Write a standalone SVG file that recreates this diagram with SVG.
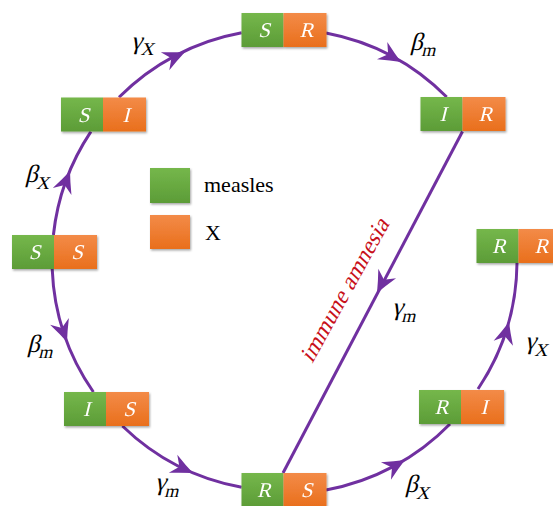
<svg xmlns="http://www.w3.org/2000/svg" xmlns:xlink="http://www.w3.org/1999/xlink" width="553" height="506" viewBox="0 0 553 506">
<style>
.g{fill:url(#gg)}
.o{fill:url(#og)}
.bt{font-family:"Liberation Serif",serif;font-size:21px;fill:#fff;text-anchor:middle}
.ln{fill:none;stroke:#7030a0;stroke-width:3}
.ah{fill:#7030a0}
.lb{font-family:"Liberation Serif",serif;font-size:25px;fill:#000}
.sb{font-size:18px}
.lg{font-family:"Liberation Serif",serif;font-size:22px;fill:#000}
.red{font-family:"Liberation Serif",serif;font-size:23.5px;fill:#c8101a}
</style>
<defs>
<linearGradient id="gg" x1="0" y1="0" x2="0" y2="1"><stop offset="0" stop-color="#75b74b"/><stop offset="1" stop-color="#5c9c37"/></linearGradient>
<linearGradient id="og" x1="0" y1="0" x2="0" y2="1"><stop offset="0" stop-color="#f38b48"/><stop offset="1" stop-color="#e96f1c"/></linearGradient>
<filter id="sh" x="-10%" y="-10%" width="130%" height="140%"><feDropShadow dx="1" dy="1.5" stdDeviation="1" flood-opacity="0.35"/></filter>
<path id="ah" d="M0,0 Q-10,-4 -22,-10 L-15,0 L-22,10 Q-10,4 0,0 Z"/>
</defs>
<g id="connectors">
<path class="ln" d="M53.4,235 A231,231 0 0 1 90.9,131.7"/>
<path class="ln" d="M119,97.3 A231,231 0 0 1 241.7,32.7"/>
<path class="ln" d="M326,33 A231,231 0 0 1 446.7,97"/>
<path class="ln" d="M462.5,131.5 L283,473"/>
<path class="ln" d="M52.2,269 A231,231 0 0 0 93.4,392"/>
<path class="ln" d="M122.4,426 A231,231 0 0 0 241.7,487.3"/>
<path class="ln" d="M326,490 A231,231 0 0 0 450,424"/>
<path class="ln" d="M478,389 A231,231 0 0 0 517,263"/>
<use href="#ah" class="ah" transform="translate(185,52) rotate(-25)"/>
<use href="#ah" class="ah" transform="translate(401,62) rotate(31)"/>
<use href="#ah" class="ah" transform="translate(70,171) rotate(-69)"/>
<use href="#ah" class="ah" transform="translate(67,342) rotate(70)"/>
<use href="#ah" class="ah" transform="translate(193,473) rotate(25)"/>
<use href="#ah" class="ah" transform="translate(405,460) rotate(-30)"/>
<use href="#ah" class="ah" transform="translate(509,322) rotate(-75)"/>
<use href="#ah" class="ah" transform="translate(377,293) rotate(117.6)"/>
</g>
<g id="node-SR" filter="url(#sh)"><rect class="g" x="241.5" y="13" width="42" height="34"/><rect class="o" x="283.5" y="13" width="43" height="34"/><text class="bt" transform="translate(264,37) skewX(-14)">S</text><text class="bt" transform="translate(306.5,37) skewX(-14)">R</text></g>
<g id="node-SI" filter="url(#sh)"><rect class="g" x="61" y="97.5" width="42" height="34"/><rect class="o" x="103" y="97.5" width="43" height="34"/><text class="bt" transform="translate(83.5,121.5) skewX(-14)">S</text><text class="bt" transform="translate(126,121.5) skewX(-14)">I</text></g>
<g id="node-SS" filter="url(#sh)"><rect class="g" x="12" y="235" width="42" height="34"/><rect class="o" x="54" y="235" width="43" height="34"/><text class="bt" transform="translate(34.5,259) skewX(-14)">S</text><text class="bt" transform="translate(77,259) skewX(-14)">S</text></g>
<g id="node-IS" filter="url(#sh)"><rect class="g" x="64" y="392" width="42" height="34"/><rect class="o" x="106" y="392" width="43" height="34"/><text class="bt" transform="translate(86.5,416) skewX(-14)">I</text><text class="bt" transform="translate(129,416) skewX(-14)">S</text></g>
<g id="node-RS" filter="url(#sh)"><rect class="g" x="241.5" y="473" width="42" height="34"/><rect class="o" x="283.5" y="473" width="43" height="34"/><text class="bt" transform="translate(264,497) skewX(-14)">R</text><text class="bt" transform="translate(306.5,497) skewX(-14)">S</text></g>
<g id="node-IR" filter="url(#sh)"><rect class="g" x="420.5" y="97" width="42" height="34"/><rect class="o" x="462.5" y="97" width="43" height="34"/><text class="bt" transform="translate(443,121) skewX(-14)">I</text><text class="bt" transform="translate(485.5,121) skewX(-14)">R</text></g>
<g id="node-RR" filter="url(#sh)"><rect class="g" x="476.5" y="229" width="42" height="34"/><rect class="o" x="518.5" y="229" width="43" height="34"/><text class="bt" transform="translate(499,253) skewX(-14)">R</text><text class="bt" transform="translate(541.5,253) skewX(-14)">R</text></g>
<g id="node-RI" filter="url(#sh)"><rect class="g" x="419" y="390" width="42" height="34"/><rect class="o" x="461" y="390" width="43" height="34"/><text class="bt" transform="translate(441.5,414) skewX(-14)">R</text><text class="bt" transform="translate(484,414) skewX(-14)">I</text></g>
<g id="legend">
<rect class="g" x="150" y="168" width="40" height="35" filter="url(#sh)"/>
<rect class="o" x="150" y="215" width="40" height="34" filter="url(#sh)"/>
<text class="lg" x="204" y="192">measles</text>
<text class="lg" x="205" y="240" font-size="23">X</text>
</g>
<g id="labels">
<text class="lb" transform="translate(131,49) skewX(-14)">γ<tspan class="sb" dy="6">X</tspan></text>
<text class="lb" transform="translate(410,50) skewX(-14)">β<tspan class="sb" dy="6">m</tspan></text>
<text class="lb" transform="translate(25,182) skewX(-14)">β<tspan class="sb" dy="7">X</tspan></text>
<text class="lb" transform="translate(27,352) skewX(-14)">β<tspan class="sb" dy="6">m</tspan></text>
<text class="lb" transform="translate(155,490) skewX(-14)">γ<tspan class="sb" dy="7">m</tspan></text>
<text class="lb" transform="translate(392,315) skewX(-14)">γ<tspan class="sb" dy="7">m</tspan></text>
<text class="lb" transform="translate(525,349) skewX(-14)">γ<tspan class="sb" dy="7">X</tspan></text>
<text class="lb" transform="translate(405,492) skewX(-14)">β<tspan class="sb" dy="7">X</tspan></text>
<text class="red" transform="translate(351,294) rotate(-61) skewX(-14)" text-anchor="middle">immune amnesia</text>
</g>
</svg>
